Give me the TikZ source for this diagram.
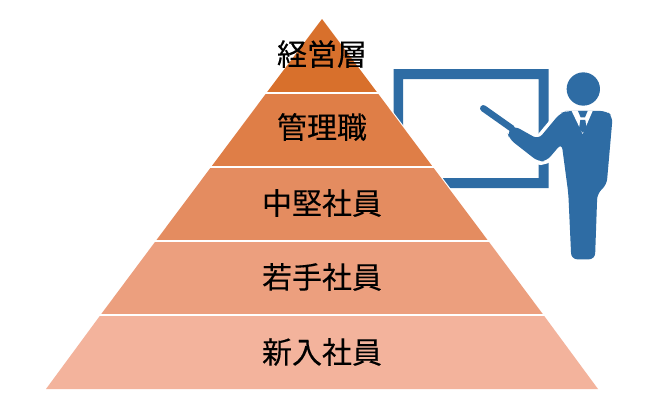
\documentclass[tikz,border=0pt]{standalone}
\usepackage{fontspec}
\newfontfamily\cjk[FakeBold=0.15]{Noto Sans CJK JP}
\definecolor{tierA}{HTML}{D8702C}
\definecolor{tierB}{HTML}{DF7E47}
\definecolor{tierC}{HTML}{E48C60}
\definecolor{tierD}{HTML}{EC9F7E}
\definecolor{tierE}{HTML}{F3B39C}
\definecolor{figblue}{HTML}{2E6CA4}
\tikzset{
  tierline/.style={draw=white,line width=1.6pt},
  tierlabel/.style={font=\cjk\fontsize{30}{30}\selectfont,text=black,inner sep=0pt,anchor=center},
  figure part/.style={fill=figblue,draw=none},
}
\begin{document}
\begin{tikzpicture}[x=1pt,y=-1pt]
\useasboundingbox (0,0) rectangle (650,410);
\fill[white] (0,0) rectangle (650,410);
% board
\fill[figure part,even odd rule] (393.5,69) rectangle (548.7,188) (403,79) rectangle (538.7,178);
% presenter, in zoomed coordinates
\begin{scope}[shift={(390,60)},x=0.3333pt,y=-0.3333pt]
  \draw[white,line width=7pt,line join=round] (515,250) -- (470,300) -- (450,305) -- (360,235) -- (352,215) -- (370,198) -- (445,238) -- (510,160);
  \draw[figblue,line width=6.6pt,line cap=round] (280,145) -- (365,205);
  \fill[figure part] (580,87) circle (50);
  \fill[figure part,rounded corners=6pt] (545,153) -- (530,153) -- (510,160) -- (445,238) -- (372,197) -- (352,215) -- (358,237) -- (445,305) -- (470,303) -- (515,250) -- (535,400) -- (544,598) -- (615,598) -- (622,400) -- (650,375) -- (668,170) -- (650,153) -- cycle;
  \fill[white] (545,153) -- (608,153) -- (578,222) -- cycle;
  \fill[figure part] (564,153) -- (593,153) -- (585,172) -- (572,172) -- cycle;
  \fill[figure part] (571,180) -- (586,180) -- (590,206) -- (578,218) -- (567,206) -- cycle;
\end{scope}
% pyramid
\draw[white,line width=2.4pt] (322,19) -- (488.3,241);
\fill[tierE] (46,389) -- (598,389) -- (543.5,315) -- (100.5,315) -- cycle;
\fill[tierD] (100.5,315) -- (543.5,315) -- (488.3,241) -- (155.7,241) -- cycle;
\fill[tierC] (155.7,241) -- (488.3,241) -- (432.9,167) -- (211.1,167) -- cycle;
\fill[tierB] (211.1,167) -- (432.9,167) -- (377.6,93) -- (266.4,93) -- cycle;
\fill[tierA] (266.4,93) -- (377.6,93) -- (322,19) -- cycle;
\draw[tierline] (98,315) -- (546,315);
\draw[tierline] (153,241) -- (491,241);
\draw[tierline] (208,167) -- (436,167);
\draw[tierline] (263,93) -- (381,93);
% labels
\node[tierlabel] (top) at (322,54) {経営層};
\node[tierlabel] (mgr) at (322,127) {管理職};
\node[tierlabel] (mid) at (322,203) {中堅社員};
\node[tierlabel] (young) at (322,277) {若手社員};
\node[tierlabel] (new) at (322,352) {新入社員};
\end{tikzpicture}
\end{document}
